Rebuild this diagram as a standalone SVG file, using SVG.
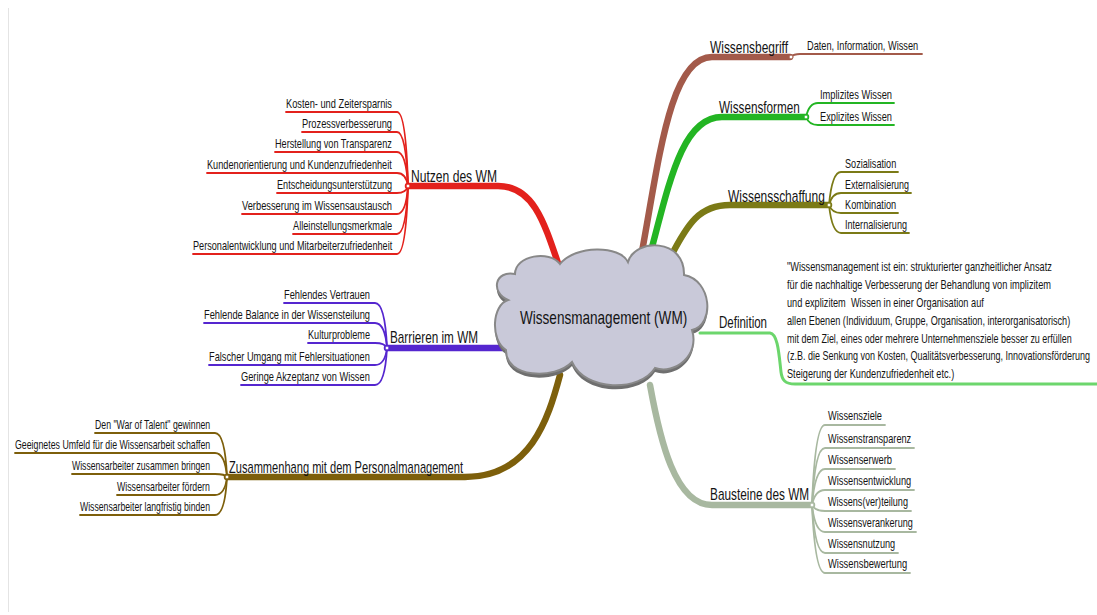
<svg xmlns="http://www.w3.org/2000/svg" width="1097" height="615" viewBox="0 0 1097 615">
  <style>
    text { font-family: "Liberation Sans", Arial, sans-serif; fill: #141414; }
    .c { font-size: 12px; }
    .b { font-size: 16px; }
    .m { font-size: 18.5px; }
    .thin { fill: none; stroke-width: 1.8; stroke-linecap: round; stroke-linejoin: round; }
    .thick { fill: none; stroke-width: 6.5; stroke-linecap: round; stroke-linejoin: round; }
    .red { stroke: #e3211c; }
    .pur { stroke: #5526cf; }
    .olv { stroke: #7d5f0b; }
    .brn { stroke: #a35a4a; }
    .grn { stroke: #23b523; }
    .oli { stroke: #7b7a16; }
    .lgr { stroke: #6cd66c; }
    .sag { stroke: #a8b8a0; }
    .dot { fill: #ffffff; stroke-width: 1; }
  </style>

  <rect width="1097" height="615" fill="#ffffff"/>
  <line x1="8.5" y1="8" x2="8.5" y2="612" stroke="#e4e4e4" stroke-width="1"/>

  <g id="connectors">
    <!-- main branches -->
    <path class="thick red" d="M562,275 C545,225 535,186 498,186 L408,186"/>
    <path class="thick pur" d="M510,348 L387,348"/>
    <path class="thick olv" d="M560,375 C548,420 530,477 465,477 L227,477"/>
    <path class="thick brn" d="M640,262 C658,170 668,57 712,57 L790,57"/>
    <path class="thick grn" d="M648,262 C668,190 680,117 722,117 L806,117"/>
    <path class="thick oli" d="M668,262 C688,222 700,205 730,205 L829,205"/>
    <path class="lgr" fill="none" stroke-width="3" stroke-linecap="round" d="M700,333 L770,333 C778,334 779,355 781,372 C782,380 785,384 795,384 L1097,384"/>
    <path class="thick sag" d="M650,385 C660,440 675,505 712,505 L812,505"/>

    <!-- Nutzen des WM -->
    <path class="thin red" d="M286,112 H397 Q406,112 408,186"/>
    <path class="thin red" d="M302,132 H397 Q406,132 408,186"/>
    <path class="thin red" d="M275,152 H397 Q406,152 408,186"/>
    <path class="thin red" d="M207,173 H397 Q406,173 408,186"/>
    <path class="thin red" d="M277,193 H397 Q406,193 408,186"/>
    <path class="thin red" d="M242,214 H397 Q406,214 408,186"/>
    <path class="thin red" d="M293,234 H397 Q406,234 408,186"/>
    <path class="thin red" d="M193,254 H397 Q406,254 408,186"/>

    <!-- Barrieren im WM -->
    <path class="thin pur" d="M284,303 H375 Q385,303 387,348"/>
    <path class="thin pur" d="M204,323 H375 Q385,323 387,348"/>
    <path class="thin pur" d="M308,343 H375 Q385,343 387,348"/>
    <path class="thin pur" d="M209,365 H375 Q385,365 387,348"/>
    <path class="thin pur" d="M241,385 H375 Q385,385 387,348"/>

    <!-- Zusammenhang mit dem Personalmanagement -->
    <path class="thin olv" d="M95,433 H215 Q225,433 227,477"/>
    <path class="thin olv" d="M15,453 H215 Q225,453 227,477"/>
    <path class="thin olv" d="M72,474 H215 Q225,474 227,477"/>
    <path class="thin olv" d="M117,495 H215 Q225,495 227,477"/>
    <path class="thin olv" d="M80,515 H215 Q225,515 227,477"/>

    <!-- Wissensbegriff -->
    <path class="thin brn" d="M790,57 Q794,54 800,54 H922"/>

    <!-- Wissensformen -->
    <path class="thin grn" d="M806,117 Q809,103 818,103 H894"/>
    <path class="thin grn" d="M806,117 Q809,125 818,125 H894"/>

    <!-- Wissensschaffung -->
    <path class="thin oli" d="M829,205 Q832,172 841,172 H898"/>
    <path class="thin oli" d="M829,205 Q832,193 841,193 H911"/>
    <path class="thin oli" d="M829,205 Q832,213 841,213 H898"/>
    <path class="thin oli" d="M829,205 Q832,233 841,233 H909"/>

    <!-- Bausteine des WM -->
    <path class="thin sag" d="M812,505 Q815,425 825,425 H885"/>
    <path class="thin sag" d="M812,505 Q815,448 825,448 H914"/>
    <path class="thin sag" d="M812,505 Q815,469 825,469 H895"/>
    <path class="thin sag" d="M812,505 Q815,490 825,490 H914"/>
    <path class="thin sag" d="M812,505 Q815,511 825,511 H911"/>
    <path class="thin sag" d="M812,505 Q815,532 825,532 H916"/>
    <path class="thin sag" d="M812,505 Q815,553 825,553 H898"/>
    <path class="thin sag" d="M812,505 Q815,573 825,573 H910"/>

    <!-- branch junctions -->
    <circle class="dot red" cx="408" cy="186" r="2"/>
    <circle class="dot pur" cx="387" cy="348" r="2"/>
    <circle class="dot olv" cx="227" cy="477" r="2"/>
    <circle class="dot brn" cx="791" cy="57" r="2"/>
    <circle class="dot grn" cx="806" cy="117" r="2"/>
    <circle class="dot oli" cx="829" cy="205" r="2"/>
    <circle class="dot sag" cx="812" cy="505" r="2"/>
  </g>

  <!-- central topic -->
  <g id="center">
    <path fill="#6f6f6f" transform="translate(0,4)" d="M508,300 C490,292 495,270 515,274 C515,255 550,250 560,264 C575,245 620,245 628,262 C635,238 685,238 684,275 C712,280 715,325 692,330 C700,355 675,375 655,368 C640,392 585,392 572,362 C555,380 505,378 506,350 C490,340 492,305 508,300 Z"/>
    <path fill="#c9c9d9" stroke="#888888" stroke-width="2" d="M508,300 C490,292 495,270 515,274 C515,255 550,250 560,264 C575,245 620,245 628,262 C635,238 685,238 684,275 C712,280 715,325 692,330 C700,355 675,375 655,368 C640,392 585,392 572,362 C555,380 505,378 506,350 C490,340 492,305 508,300 Z"/>
    <text class="m" transform="matrix(0.8 0 0 1 520 324)" textLength="209" lengthAdjust="spacingAndGlyphs">Wissensmanagement (WM)</text>
  </g>

  <!-- left: Nutzen des WM (labels are set in a narrowed face: x scale 0.8) -->
  <g id="nutzen"><text class="b" transform="matrix(0.8 0 0 1 411 182)" textLength="107.5" lengthAdjust="spacingAndGlyphs">Nutzen des WM</text></g>
  <g id="nutzen-1"><text class="c" transform="matrix(0.8 0 0 1 286 108)" textLength="132.5" lengthAdjust="spacingAndGlyphs">Kosten- und Zeitersparnis</text></g>
  <g id="nutzen-2"><text class="c" transform="matrix(0.8 0 0 1 302 128)" textLength="112.5" lengthAdjust="spacingAndGlyphs">Prozessverbesserung</text></g>
  <g id="nutzen-3"><text class="c" transform="matrix(0.8 0 0 1 275 148)" textLength="146" lengthAdjust="spacingAndGlyphs">Herstellung von Transparenz</text></g>
  <g id="nutzen-4"><text class="c" transform="matrix(0.8 0 0 1 207 169)" textLength="231" lengthAdjust="spacingAndGlyphs">Kundenorientierung und Kundenzufriedenheit</text></g>
  <g id="nutzen-5"><text class="c" transform="matrix(0.8 0 0 1 277 189)" textLength="144" lengthAdjust="spacingAndGlyphs">Entscheidungsunterstützung</text></g>
  <g id="nutzen-6"><text class="c" transform="matrix(0.8 0 0 1 242 210)" textLength="187.5" lengthAdjust="spacingAndGlyphs">Verbesserung im Wissensaustausch</text></g>
  <g id="nutzen-7"><text class="c" transform="matrix(0.8 0 0 1 293 230)" textLength="124" lengthAdjust="spacingAndGlyphs">Alleinstellungsmerkmale</text></g>
  <g id="nutzen-8"><text class="c" transform="matrix(0.8 0 0 1 193 250)" textLength="249" lengthAdjust="spacingAndGlyphs">Personalentwicklung und Mitarbeiterzufriedenheit</text></g>

  <!-- left: Barrieren im WM -->
  <g id="barrieren"><text class="b" transform="matrix(0.8 0 0 1 390 343)" textLength="110" lengthAdjust="spacingAndGlyphs">Barrieren im WM</text></g>
  <g id="barrieren-1"><text class="c" transform="matrix(0.8 0 0 1 284 299)" textLength="107.5" lengthAdjust="spacingAndGlyphs">Fehlendes Vertrauen</text></g>
  <g id="barrieren-2"><text class="c" transform="matrix(0.8 0 0 1 204 319)" textLength="207.5" lengthAdjust="spacingAndGlyphs">Fehlende Balance in der Wissensteilung</text></g>
  <g id="barrieren-3"><text class="c" transform="matrix(0.8 0 0 1 308 339)" textLength="77.5" lengthAdjust="spacingAndGlyphs">Kulturprobleme</text></g>
  <g id="barrieren-4"><text class="c" transform="matrix(0.8 0 0 1 209 361)" textLength="201" lengthAdjust="spacingAndGlyphs">Falscher Umgang mit Fehlersituationen</text></g>
  <g id="barrieren-5"><text class="c" transform="matrix(0.8 0 0 1 241 381)" textLength="161" lengthAdjust="spacingAndGlyphs">Geringe Akzeptanz von Wissen</text></g>

  <!-- left: Zusammenhang mit dem Personalmanagement -->
  <g id="personal"><text class="b" transform="matrix(0.8 0 0 1 229 473)" textLength="292.5" lengthAdjust="spacingAndGlyphs">Zusammenhang mit dem Personalmanagement</text></g>
  <g id="personal-1"><text class="c" transform="matrix(0.8 0 0 1 95 429)" textLength="144" lengthAdjust="spacingAndGlyphs">Den "War of Talent" gewinnen</text></g>
  <g id="personal-2"><text class="c" transform="matrix(0.8 0 0 1 15 449)" textLength="244" lengthAdjust="spacingAndGlyphs">Geeignetes Umfeld für die Wissensarbeit schaffen</text></g>
  <g id="personal-3"><text class="c" transform="matrix(0.8 0 0 1 72 470)" textLength="172.5" lengthAdjust="spacingAndGlyphs">Wissensarbeiter zusammen bringen</text></g>
  <g id="personal-4"><text class="c" transform="matrix(0.8 0 0 1 117 491)" textLength="116" lengthAdjust="spacingAndGlyphs">Wissensarbeiter fördern</text></g>
  <g id="personal-5"><text class="c" transform="matrix(0.8 0 0 1 80 511)" textLength="162.5" lengthAdjust="spacingAndGlyphs">Wissensarbeiter langfristig binden</text></g>

  <!-- right: Wissensbegriff -->
  <g id="begriff"><text class="b" transform="matrix(0.8 0 0 1 710 53)" textLength="97.5" lengthAdjust="spacingAndGlyphs">Wissensbegriff</text></g>
  <g id="begriff-1"><text class="c" transform="matrix(0.8 0 0 1 807 50)" textLength="139" lengthAdjust="spacingAndGlyphs">Daten, Information, Wissen</text></g>

  <!-- right: Wissensformen -->
  <g id="formen"><text class="b" transform="matrix(0.8 0 0 1 719 113)" textLength="101" lengthAdjust="spacingAndGlyphs">Wissensformen</text></g>
  <g id="formen-1"><text class="c" transform="matrix(0.8 0 0 1 820 99)" textLength="90" lengthAdjust="spacingAndGlyphs">Implizites Wissen</text></g>
  <g id="formen-2"><text class="c" transform="matrix(0.8 0 0 1 820 121)" textLength="90" lengthAdjust="spacingAndGlyphs">Explizites Wissen</text></g>

  <!-- right: Wissensschaffung -->
  <g id="schaffung"><text class="b" transform="matrix(0.8 0 0 1 728 202)" textLength="121" lengthAdjust="spacingAndGlyphs">Wissensschaffung</text></g>
  <g id="schaffung-1"><text class="c" transform="matrix(0.8 0 0 1 845 168)" textLength="64" lengthAdjust="spacingAndGlyphs">Sozialisation</text></g>
  <g id="schaffung-2"><text class="c" transform="matrix(0.8 0 0 1 845 189)" textLength="80" lengthAdjust="spacingAndGlyphs">Externalisierung</text></g>
  <g id="schaffung-3"><text class="c" transform="matrix(0.8 0 0 1 845 209)" textLength="64" lengthAdjust="spacingAndGlyphs">Kombination</text></g>
  <g id="schaffung-4"><text class="c" transform="matrix(0.8 0 0 1 845 229)" textLength="77.5" lengthAdjust="spacingAndGlyphs">Internalisierung</text></g>

  <!-- right: Definition -->
  <g id="definition"><text class="b" transform="matrix(0.8 0 0 1 719 328)" textLength="60" lengthAdjust="spacingAndGlyphs">Definition</text></g>
  <g id="definition-text">
    <text class="c" transform="matrix(0.8 0 0 1 787 271)" textLength="331" lengthAdjust="spacingAndGlyphs">"Wissensmanagement ist ein: strukturierter ganzheitlicher Ansatz</text>
    <text class="c" transform="matrix(0.8 0 0 1 787 289)" textLength="330" lengthAdjust="spacingAndGlyphs">für die nachhaltige Verbesserung der Behandlung von implizitem</text>
    <text class="c" transform="matrix(0.8 0 0 1 787 307)" textLength="246" lengthAdjust="spacingAndGlyphs" xml:space="preserve">und explizitem  Wissen in einer Organisation auf</text>
    <text class="c" transform="matrix(0.8 0 0 1 787 325)" textLength="354" lengthAdjust="spacingAndGlyphs">allen Ebenen (Individuum, Gruppe, Organisation, interorganisatorisch)</text>
    <text class="c" transform="matrix(0.8 0 0 1 787 343)" textLength="356" lengthAdjust="spacingAndGlyphs">mit dem Ziel, eines oder mehrere Unternehmensziele besser zu erfüllen</text>
    <text class="c" transform="matrix(0.75 0 0 1 787 360)" textLength="404" lengthAdjust="spacingAndGlyphs">(z.B. die Senkung von Kosten, Qualitätsverbesserung, Innovationsförderung</text>
    <text class="c" transform="matrix(0.8 0 0 1 787 378)" textLength="209" lengthAdjust="spacingAndGlyphs">Steigerung der Kundenzufriedenheit etc.)</text>
  </g>

  <!-- right: Bausteine des WM -->
  <g id="bausteine"><text class="b" transform="matrix(0.8 0 0 1 710 500)" textLength="124" lengthAdjust="spacingAndGlyphs">Bausteine des WM</text></g>
  <g id="bausteine-1"><text class="c" transform="matrix(0.8 0 0 1 828 420)" textLength="67.5" lengthAdjust="spacingAndGlyphs">Wissensziele</text></g>
  <g id="bausteine-2"><text class="c" transform="matrix(0.8 0 0 1 828 443)" textLength="104" lengthAdjust="spacingAndGlyphs">Wissenstransparenz</text></g>
  <g id="bausteine-3"><text class="c" transform="matrix(0.8 0 0 1 828 464)" textLength="80" lengthAdjust="spacingAndGlyphs">Wissenserwerb</text></g>
  <g id="bausteine-4"><text class="c" transform="matrix(0.8 0 0 1 828 485)" textLength="104" lengthAdjust="spacingAndGlyphs">Wissensentwicklung</text></g>
  <g id="bausteine-5"><text class="c" transform="matrix(0.8 0 0 1 828 506)" textLength="100" lengthAdjust="spacingAndGlyphs">Wissens(ver)teilung</text></g>
  <g id="bausteine-6"><text class="c" transform="matrix(0.8 0 0 1 828 527)" textLength="106" lengthAdjust="spacingAndGlyphs">Wissensverankerung</text></g>
  <g id="bausteine-7"><text class="c" transform="matrix(0.8 0 0 1 828 548)" textLength="84" lengthAdjust="spacingAndGlyphs">Wissensnutzung</text></g>
  <g id="bausteine-8"><text class="c" transform="matrix(0.8 0 0 1 828 568)" textLength="99" lengthAdjust="spacingAndGlyphs">Wissensbewertung</text></g>
</svg>
